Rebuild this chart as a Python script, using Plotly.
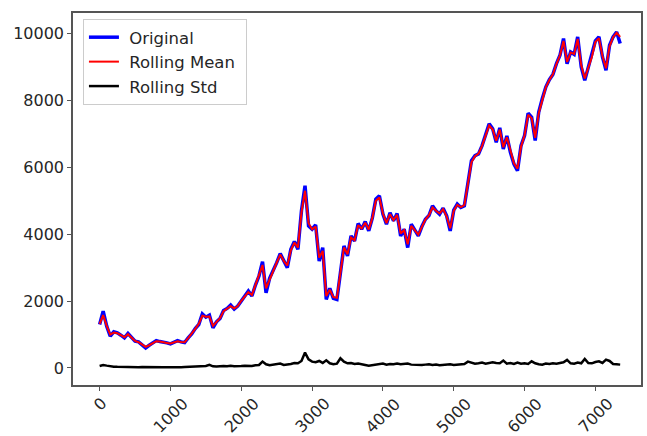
import plotly.graph_objects as go

# Daily closing index, sampled every 50 trading days
day = list(range(0, 7351, 50))

close = [
    1300, 1700, 1250, 950, 1080, 1050, 980, 900, 1030, 920,
    800, 780, 680, 600, 680, 760, 820, 790, 780, 750,
    720, 760, 820, 780, 760, 900, 1020, 1180, 1300, 1620,
    1520, 1580, 1200, 1380, 1480, 1720, 1780, 1880, 1760, 1850,
    2020, 2150, 2300, 2150, 2480, 2750, 3180, 2250, 2680, 2900,
    3150, 3420, 3200, 3000, 3550, 3780, 3550, 4700, 5450, 4250,
    4150, 4280, 3200, 3600, 2050, 2380, 2080, 2050, 2850, 3650,
    3350, 3950, 3800, 4320, 4150, 4380, 4100, 4480, 5050, 5150,
    4600, 4300, 4640, 4400, 4620, 3950, 4150, 3600, 4300, 4120,
    3950, 4230, 4450, 4560, 4850, 4700, 4600, 4780, 4550, 4100,
    4720, 4900, 4800, 4850, 5500, 6200, 6350, 6400, 6650, 6950,
    7300, 7150, 6750, 7180, 6550, 6940, 6450, 6100, 5900, 6650,
    6950, 7620, 7500, 6800, 7650, 8050, 8400, 8620, 8780, 9100,
    9350, 9850, 9100, 9450, 9380, 9900, 9000, 8600, 9000, 9300,
    9780, 9900, 9300, 8900, 9650, 9900, 10050, 9700,
]

rolling_mean = [
    1320, 1580, 1260, 1000, 1060, 1040, 980, 920, 1010, 920,
    810, 770, 690, 630, 680, 750, 800, 790, 780, 750,
    730, 760, 800, 780, 770, 890, 1020, 1170, 1320, 1560,
    1530, 1540, 1260, 1380, 1490, 1700, 1780, 1850, 1780, 1850,
    2010, 2150, 2270, 2180, 2470, 2760, 3080, 2380, 2650, 2900,
    3150, 3390, 3200, 3060, 3520, 3750, 3600, 4650, 5300, 4330,
    4150, 4230, 3300, 3500, 2150, 2340, 2120, 2100, 2850, 3600,
    3400, 3900, 3820, 4270, 4170, 4340, 4140, 4480, 5000, 5100,
    4620, 4330, 4600, 4420, 4580, 4020, 4120, 3700, 4250, 4120,
    3990, 4220, 4440, 4570, 4800, 4700, 4620, 4750, 4530, 4180,
    4700, 4880, 4810, 4870, 5480, 6150, 6330, 6410, 6640, 6940,
    7250, 7130, 6800, 7130, 6600, 6900, 6480, 6120, 5960, 6620,
    6960, 7570, 7470, 6880, 7620, 8040, 8390, 8610, 8780, 9090,
    9350, 9780, 9150, 9430, 9390, 9840, 9050, 8660, 8990, 9300,
    9750, 9860, 9330, 8960, 9620, 9890, 10020, 9900,
]

rolling_std = [
    60, 90, 70, 50, 40, 35, 30, 35, 30, 35,
    30, 25, 30, 25, 25, 20, 25, 20, 20, 25,
    20, 25, 20, 25, 30, 35, 40, 45, 55, 70,
    60, 95, 50, 45, 55, 60, 50, 65, 55, 50,
    60, 70, 65, 60, 80, 90, 190, 110, 80, 90,
    100, 130, 90, 100, 120, 150, 140, 210, 460, 260,
    190, 170, 210, 150, 230, 140, 110, 130, 290, 190,
    140, 150, 120, 130, 100, 90, 70, 80, 110, 120,
    130, 100, 120, 110, 130, 110, 120, 130, 100, 90,
    80, 90, 100, 110, 90, 100, 80, 90, 100, 110,
    90, 100, 110, 120, 190, 150, 130, 140, 160, 130,
    150, 170, 150, 140, 220, 130, 150, 120, 160, 130,
    140, 120, 200, 140, 110, 100, 130, 120, 140, 130,
    150, 170, 240, 140, 130, 160, 140, 270, 150, 140,
    180, 200, 150, 250, 210, 120, 110, 100,
]

assert len(day) == len(close) == len(rolling_mean) == len(rolling_std)

x_ticks = [0, 1000, 2000, 3000, 4000, 5000, 6000, 7000]
y_ticks = [0, 2000, 4000, 6000, 8000, 10000]

FONT = "DejaVu Sans"
TEXT = "#262626"
SPINE = "#555555"
NB = "\u00a0"

fig = go.Figure()
fig.add_trace(go.Scatter(x=day, y=close, mode="lines", name=NB + "Original",
                         line=dict(color="#0000ff", width=3.5)))
fig.add_trace(go.Scatter(x=day, y=rolling_mean, mode="lines",
                         name=NB + "Rolling Mean" + NB,
                         line=dict(color="#ff0000", width=2)))
fig.add_trace(go.Scatter(x=day, y=rolling_std, mode="lines",
                         name=NB + "Rolling Std",
                         line=dict(color="#000000", width=2.5)))

# Rotated x tick labels centred under their ticks
for t in x_ticks:
    fig.add_annotation(x=t, y=0, xref="x", yref="paper", text=str(t),
                       showarrow=False, textangle=-45, xanchor="center",
                       yanchor="top", yshift=-6,
                       font=dict(family=FONT, size=16, color=TEXT))

fig.update_layout(
    width=647, height=436,
    margin=dict(l=73, r=4, t=13, b=51),
    paper_bgcolor="white", plot_bgcolor="white",
    font=dict(family=FONT, size=16, color=TEXT),
    showlegend=True,
    legend=dict(x=0.0175, y=0.984, xanchor="left", yanchor="top",
                bgcolor="rgba(255,255,255,0.8)", bordercolor="#cccccc",
                borderwidth=1, font=dict(family=FONT, size=16.5, color=TEXT),
                tracegroupgap=0),
    xaxis=dict(range=[-376, 7644], tickvals=x_ticks, showticklabels=False,
               ticks="outside", ticklen=4, tickcolor=SPINE, showgrid=False,
               zeroline=False, showline=True, linecolor=SPINE, linewidth=1.5,
               mirror=True),
    yaxis=dict(range=[-509, 10615], tickvals=y_ticks,
               ticktext=[str(v) for v in y_ticks], ticks="outside",
               ticklen=4, tickcolor=SPINE, showgrid=False, zeroline=False,
               showline=True, linecolor=SPINE, linewidth=1.5, mirror=True,
               tickfont=dict(family=FONT, size=16, color=TEXT)),
)

fig.write_html("out.html")
